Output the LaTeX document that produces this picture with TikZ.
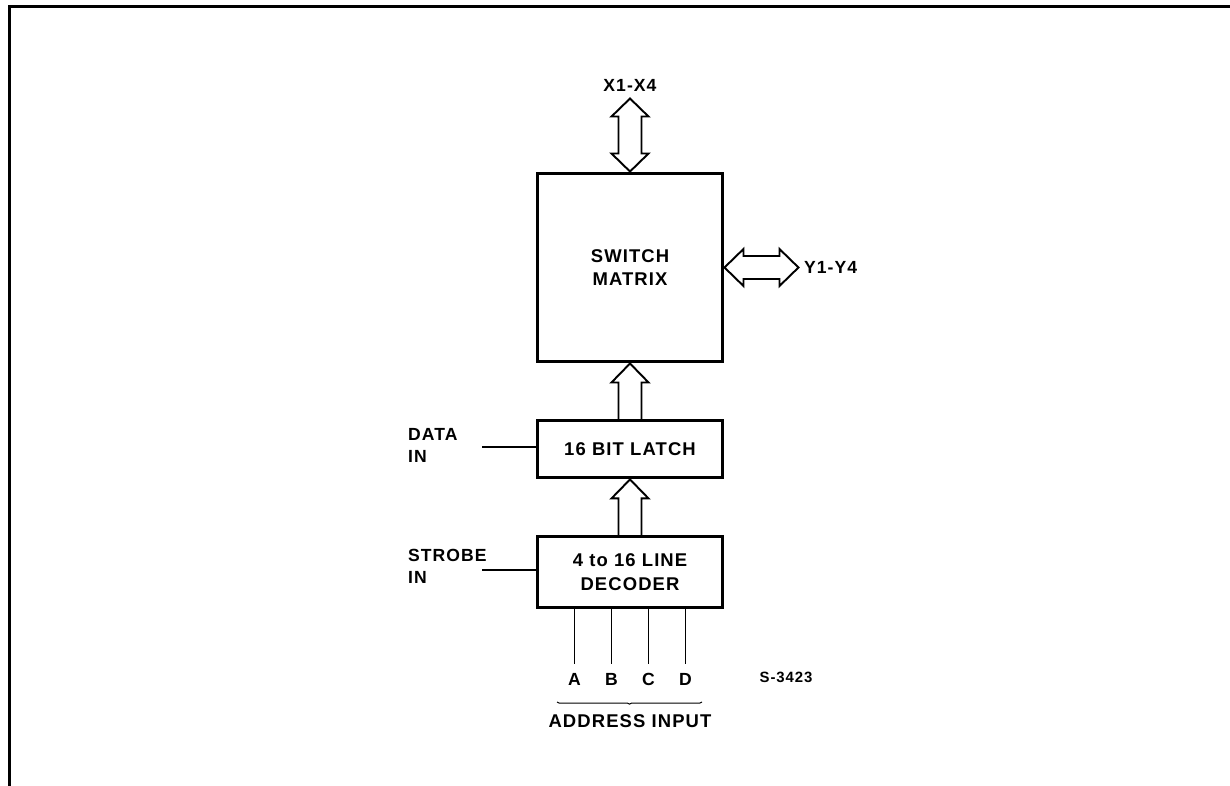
\documentclass[tikz,border=0pt]{standalone}
\usepackage{fontspec}
\setmainfont{Liberation Sans}
\usepackage{tikz}
\usetikzlibrary{positioning, calc, decorations.pathreplacing}

\begin{document}
\begin{tikzpicture}[x=0.02cm, y=-0.02cm,
  box/.style={draw, line width=1.7pt, align=center, inner sep=0pt,
    font=\bfseries\fontsize{10.5}{13.5}\selectfont\addfontfeature{LetterSpace=6}},
  bus/.style={line width=1.1pt, line join=miter},
  wire/.style={line width=0.8pt},
  lbl/.style={align=left, inner sep=1pt,
    font=\bfseries\fontsize{10}{12.5}\selectfont\addfontfeature{LetterSpace=6}},
  pinlbl/.style={inner xsep=1pt, inner ysep=5pt,
    font=\bfseries\fontsize{10}{12}\selectfont}]

  \useasboundingbox (0,0) rectangle (1230,786);
  \draw[line width=1.5pt, line join=miter] (9.5,786) -- (9.5,6.3) -- (1230,6.3);

  \node[box, minimum width=3.72cm, minimum height=3.78cm] (mtx) at (630,267.5) {SWITCH\\MATRIX};
  \node[box, minimum width=3.72cm, minimum height=1.14cm, below=1.12cm of mtx] (latch) {16 BIT LATCH};
  \node[box, minimum width=3.72cm, minimum height=1.42cm, below=1.12cm of latch] (dec) {4 to 16 LINE\\DECODER};

  \coordinate (xtop) at ($(mtx.north)+(0,-73)$);
  \coordinate (ytip) at ($(mtx.east)+(74,0)$);
  \node[lbl, above=3pt of xtop] (xlbl) {X1-X4};
  \node[lbl, right=2pt of ytip] (ylbl) {Y1-Y4};

  \draw[bus] (mtx.north) -- ++(-18.5,-18) -- ++(7,0) -- ($(xtop)+(-11.5,18)$) -- ++(-7,0)
    -- (xtop) -- ++(18.5,18) -- ++(-7,0) -- ($(mtx.north)+(11.5,-18)$) -- ++(7,0) -- cycle;
  \draw[bus] (mtx.east) -- ++(19,-18.5) -- ++(0,7) -- ($(ytip)+(-19,-11.5)$) -- ++(0,-7)
    -- (ytip) -- ++(-19,18.5) -- ++(0,-7) -- ($(mtx.east)+(19,11.5)$) -- ++(0,7) -- cycle;

  \draw[bus] ($(latch.north)+(-11.5,0)$) |- ($(mtx.south)+(-18.5,19)$) -- (mtx.south)
    -- ++(18.5,19) -- ++(-7,0) -- ($(latch.north)+(11.5,0)$);
  \draw[bus] ($(dec.north)+(-11.5,0)$) |- ($(latch.south)+(-18.5,19)$) -- (latch.south)
    -- ++(18.5,19) -- ++(-7,0) -- ($(dec.north)+(11.5,0)$);

  \node[lbl, anchor=west] (dlbl) at (406,445) {DATA\\IN};
  \coordinate (din) at (482,447);
  \draw[wire] (din) -- (din -| latch.west);
  \node[lbl, anchor=west] (slbl) at (406,566) {STROBE\\IN};
  \coordinate (sin) at (482,570);
  \draw[wire] (sin) -- (sin -| dec.west);

  \foreach \dx/\pin in {-55.5/A, -18.5/B, 18.5/C, 55.5/D} {
    \node[pinlbl] (\pin) at ($(dec.south)+(\dx,70)$) {\pin};
    \draw[wire] (dec.south -| \pin) -- (\pin.north);
  }
  \draw[line width=0.6pt, decorate, decoration={brace, mirror, amplitude=1.2pt}] (557,702) -- (702,702);
  \node[lbl] (addr) at (630,721) {\fontsize{10.5}{12}\selectfont ADDRESS INPUT};
  \node[lbl] (ref) at (786,677) {\fontsize{8.5}{10}\selectfont S-3423};
\end{tikzpicture}
\end{document}
